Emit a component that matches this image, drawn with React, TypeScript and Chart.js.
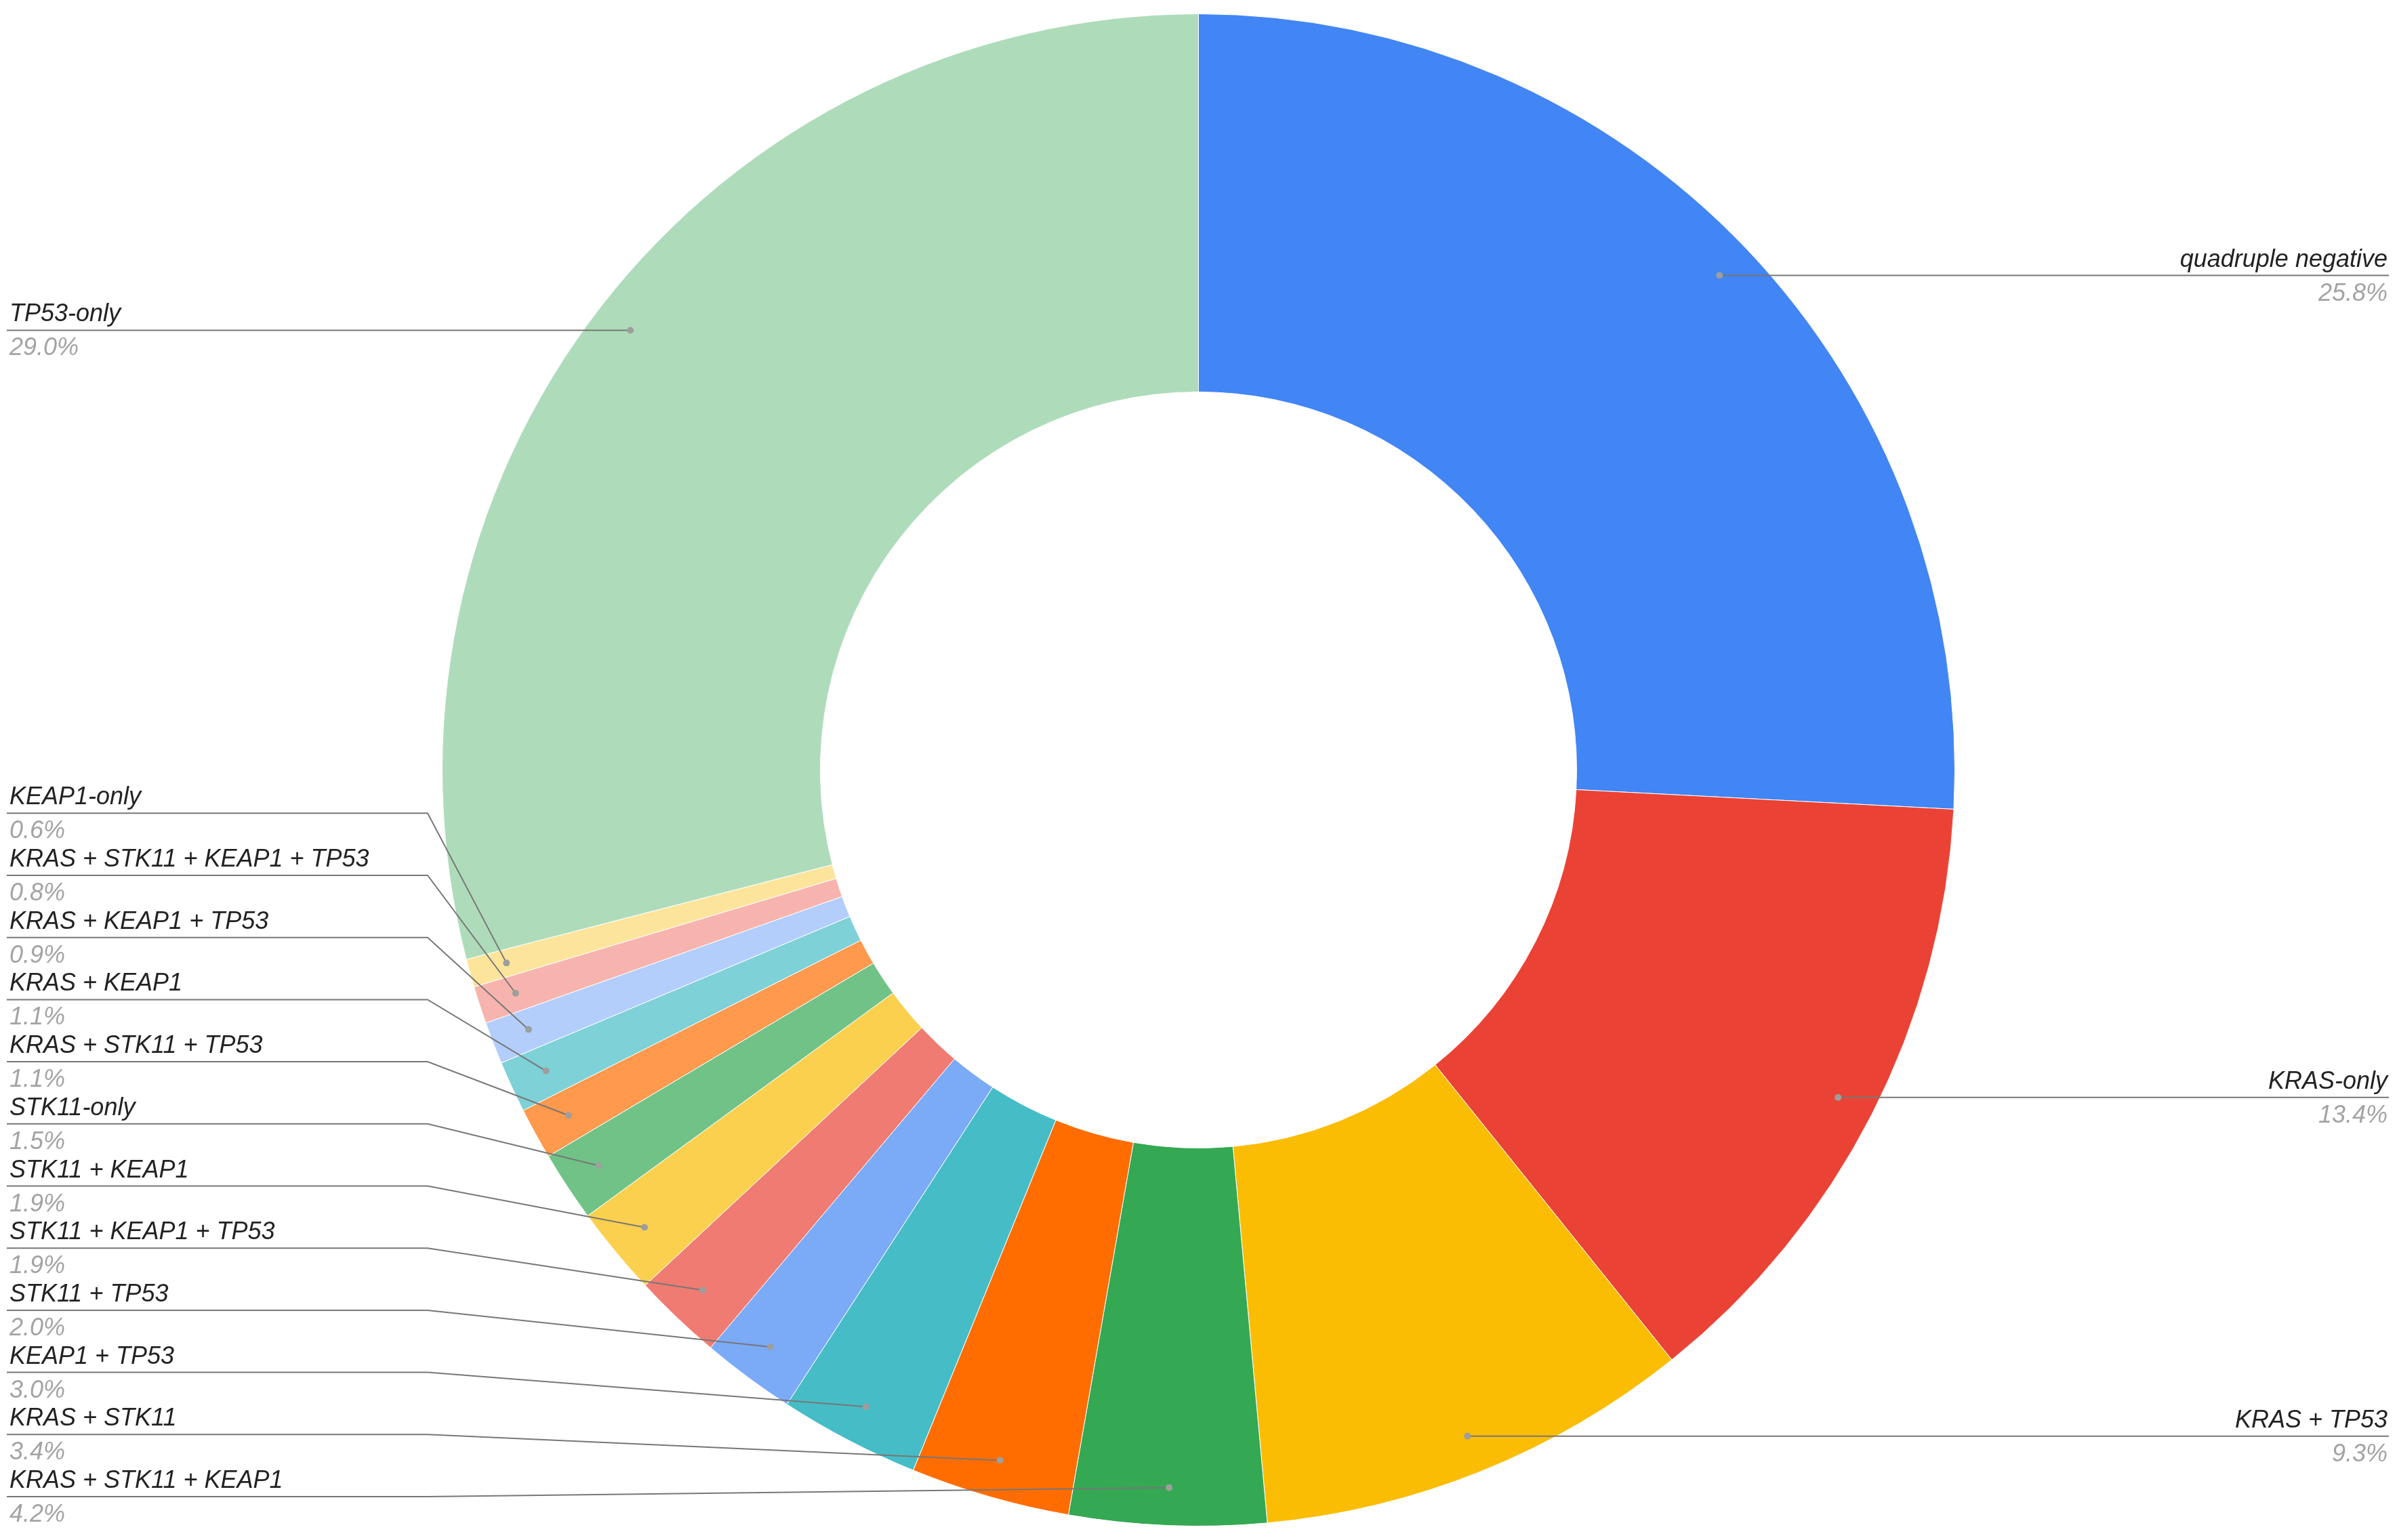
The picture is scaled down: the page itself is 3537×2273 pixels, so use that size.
import React, { useEffect, useRef } from "react";
import { Chart, registerables } from "chart.js";

Chart.register(...registerables);

const categories = [
  "quadruple negative",
  "KRAS-only",
  "KRAS + TP53",
  "KRAS + STK11 + KEAP1",
  "KRAS + STK11",
  "KEAP1 + TP53",
  "STK11 + TP53",
  "STK11 + KEAP1 + TP53",
  "STK11 + KEAP1",
  "STK11-only",
  "KRAS + STK11 + TP53",
  "KRAS + KEAP1",
  "KRAS + KEAP1 + TP53",
  "KRAS + STK11 + KEAP1 + TP53",
  "KEAP1-only",
  "TP53-only",
];

const values = [25.8, 13.4, 9.3, 4.2, 3.4, 3.0, 2.0, 1.9, 1.9, 1.5, 1.1, 1.1, 0.9, 0.8, 0.6, 29.0];

const colors = [
  "#4285F4", "#EA4335", "#FBBC04", "#34A853", "#FF6D01", "#46BDC6", "#7BAAF7", "#F07B72",
  "#FCD04F", "#71C287", "#FF994D", "#7ED1D7", "#B3CEFB", "#F7B4AE", "#FDE49B", "#AEDCBA",
];

const W = 3537;
const H = 2273;

const labelPlugin = {
  id: "googleLabels",
  afterDraw(chart: any) {
    const ctx = chart.ctx as CanvasRenderingContext2D;
    const meta = chart.getDatasetMeta(0);
    const data = chart.data.datasets[0].data as number[];
    const total = data.reduce((a, b) => a + b, 0);
    const labels = chart.data.labels as string[];
    const cw = chart.width;
    const ch = chart.height;
    const leftX = 14;
    const rightX = cw - 14;
    const elbowX = 631;
    const spacing = 91.7;

    type L = { i: number; dx: number; dy: number; y: number; side: "L" | "R" };
    const items: L[] = meta.data.map((arc: any, i: number) => {
      const p = arc.getProps(["x", "y", "startAngle", "endAngle", "innerRadius", "outerRadius"], true);
      const mid = (p.startAngle + p.endAngle) / 2;
      const r = p.innerRadius + 0.9 * (p.outerRadius - p.innerRadius);
      const dx = p.x + Math.cos(mid) * r;
      const dy = p.y + Math.sin(mid) * r;
      return { i, dx, dy, y: dy, side: dx < p.x ? "L" : "R" };
    });

    const left = items.filter((d) => d.side === "L").sort((a, b) => a.dy - b.dy);
    if (left.length) {
      left[left.length - 1].y = Math.max(left[left.length - 1].dy, ch - 64);
      for (let k = left.length - 2; k >= 0; k--) {
        left[k].y = Math.min(left[k].dy, left[k + 1].y - spacing);
      }
    }

    ctx.save();
    ctx.lineWidth = 2;
    ctx.strokeStyle = "#777777";
    for (const d of items) {
      ctx.beginPath();
      if (d.side === "L") {
        ctx.moveTo(leftX - 4, d.y);
        if (Math.abs(d.y - d.dy) < 1) {
          ctx.lineTo(d.dx, d.dy);
        } else {
          ctx.lineTo(elbowX, d.y);
          ctx.lineTo(d.dx, d.dy);
        }
      } else {
        ctx.moveTo(rightX + 2, d.y);
        if (Math.abs(d.y - d.dy) < 1) {
          ctx.lineTo(d.dx, d.dy);
        } else {
          ctx.lineTo(cw - elbowX, d.y);
          ctx.lineTo(d.dx, d.dy);
        }
      }
      ctx.stroke();
      ctx.beginPath();
      ctx.fillStyle = "#9e9e9e";
      ctx.arc(d.dx, d.dy, 5, 0, Math.PI * 2);
      ctx.fill();

      const pct = ((data[d.i] / total) * 100).toFixed(1) + "%";
      ctx.font = 'italic 36px "Liberation Sans", Arial, sans-serif';
      ctx.textBaseline = "alphabetic";
      ctx.textAlign = d.side === "L" ? "left" : "right";
      const tx = d.side === "L" ? leftX : rightX;
      ctx.fillStyle = "#222222";
      ctx.fillText(labels[d.i], tx, d.y - 13);
      ctx.fillStyle = "#a3a3a3";
      ctx.fillText(pct, tx, d.y + 37);
    }
    ctx.restore();
  },
};

export default function App() {
  const ref = useRef<HTMLCanvasElement | null>(null);
  useEffect(() => {
    if (!ref.current) return;
    const chart = new Chart(ref.current, {
      type: "doughnut",
      data: {
        labels: categories,
        datasets: [
          {
            data: values,
            backgroundColor: colors,
            borderColor: "#ffffff",
            borderWidth: 1,
          },
        ],
      },
      options: {
        responsive: false,
        animation: false,
        devicePixelRatio: 1,
        cutout: "50%",
        layout: { padding: { top: 20, bottom: 20, left: 0, right: 0 } },
        plugins: {
          legend: { display: false },
          tooltip: { enabled: false },
        },
      },
      plugins: [labelPlugin],
    });
    return () => chart.destroy();
  }, []);
  return (
    <div style={{ position: "fixed", left: 0, top: 0, width: W, height: H, background: "#fff" }}>
      <canvas ref={ref} width={W} height={H} style={{ width: W, height: H, display: "block" }} />
    </div>
  );
}
